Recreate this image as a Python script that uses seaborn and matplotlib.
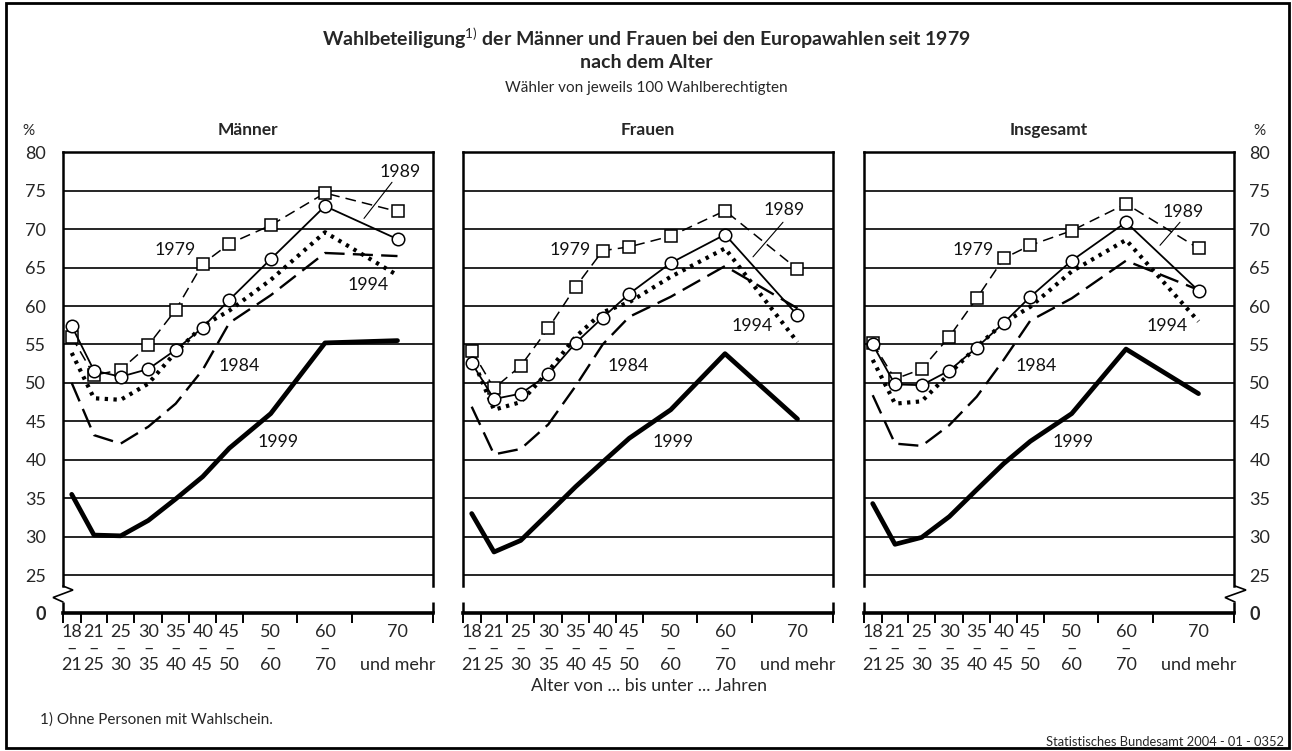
import matplotlib
matplotlib.use("Agg")
import matplotlib.pyplot as plt
from matplotlib.lines import Line2D
from matplotlib.patches import Rectangle
import seaborn as sns
import pandas as pd

# ---------------- data ----------------
age_low = ["18", "21", "25", "30", "35", "40", "45", "50", "60", "70"]
age_high = ["21", "25", "30", "35", "40", "45", "50", "60", "70", "und mehr"]
panels = ["Männer", "Frauen", "Insgesamt"]
years = ["1979", "1984", "1989", "1994", "1999"]

maenner_1979 = [56.0, 51.0, 51.7, 54.9, 59.5, 65.5, 68.1, 70.5, 74.7, 72.3]
maenner_1984 = [50.0, 43.2, 42.1, 44.3, 47.3, 51.7, 57.8, 61.4, 66.9, 66.5]
maenner_1989 = [57.4, 51.6, 50.8, 51.8, 54.3, 57.2, 60.8, 66.1, 73.0, 68.7]
maenner_1994 = [53.9, 48.0, 47.8, 49.9, 54.0, 57.4, 59.4, 63.4, 69.6, 64.0]
maenner_1999 = [35.5, 30.2, 30.1, 32.1, 34.9, 37.8, 41.5, 46.0, 55.2, 55.5]

frauen_1979 = [54.2, 49.3, 52.2, 57.1, 62.5, 67.2, 67.7, 69.1, 72.4, 64.8]
frauen_1984 = [46.9, 40.7, 41.4, 44.6, 49.6, 55.0, 58.6, 61.2, 65.2, 59.7]
frauen_1989 = [52.6, 47.9, 48.6, 51.1, 55.2, 58.5, 61.6, 65.6, 69.3, 58.8]
frauen_1994 = [53.4, 46.5, 47.5, 51.5, 56.0, 59.2, 60.5, 63.8, 67.5, 55.3]
frauen_1999 = [33.0, 28.0, 29.5, 33.0, 36.5, 39.7, 42.8, 46.5, 53.8, 45.3]

insg_1979 = [55.2, 50.5, 51.8, 56.0, 61.0, 66.2, 67.9, 69.8, 73.3, 67.5]
insg_1984 = [48.4, 42.1, 41.8, 44.5, 48.2, 53.0, 58.1, 61.0, 65.9, 62.1]
insg_1989 = [55.0, 49.8, 49.7, 51.6, 54.6, 57.8, 61.2, 65.9, 70.9, 62.0]
insg_1994 = [53.0, 47.3, 47.6, 51.2, 54.7, 57.8, 59.9, 64.5, 68.6, 58.0]
insg_1999 = [34.3, 29.0, 29.9, 32.6, 36.1, 39.5, 42.4, 46.0, 54.4, 48.6]

y_ticks = [25, 30, 35, 40, 45, 50, 55, 60, 65, 70, 75, 80]

# ---------------- layout (not data) ----------------
W, H = 1292, 751
x_bounds = [0, 17.7, 44, 71, 98.7, 126, 153, 179.7, 233.7, 288.7, 370]
x_pos = [8.7, 31, 57.7, 85.3, 112.7, 139.7, 166.3, 207.7, 262, 334.5]
Y0 = 20.1  # position where "0" is drawn (broken axis)
panel_left_px = [63, 463, 864]
ax_top_px, ax_bot_px, ax_w_px = 152.3, 612.7, 370

series = {
    "Männer": [maenner_1979, maenner_1984, maenner_1989, maenner_1994, maenner_1999],
    "Frauen": [frauen_1979, frauen_1984, frauen_1989, frauen_1994, frauen_1999],
    "Insgesamt": [insg_1979, insg_1984, insg_1989, insg_1994, insg_1999],
}

styles = {
    "1979": dict(color="black", lw=1.1, linestyle=(0, (7, 4)), marker="s", markersize=8.5,
                 markerfacecolor="white", markeredgecolor="black", markeredgewidth=1.1, zorder=5),
    "1984": dict(color="black", lw=1.7, linestyle=(0, (8.5, 3.5)), zorder=3),
    "1989": dict(color="black", lw=1.3, linestyle="-", marker="o", markersize=9,
                 markerfacecolor="white", markeredgecolor="black", markeredgewidth=1.1, zorder=6),
    "1994": dict(color="black", lw=3.0, linestyle=(0, (0.8, 1.3)), zorder=4),
    "1999": dict(color="black", lw=3.4, linestyle="-", zorder=4),
}

labels_pos = {
    "Männer": {"1989": (337, 77.4), "1979": (112, 67.3), "1994": (305, 62.7),
               "1984": (176, 52.2), "1999": (215, 42.3)},
    "Frauen": {"1989": (321, 72.5), "1979": (107, 67.3), "1994": (289, 57.4),
               "1984": (165, 52.2), "1999": (210, 42.3)},
    "Insgesamt": {"1989": (319, 72.2), "1979": (109, 67.3), "1994": (303, 57.4),
                  "1984": (172, 52.2), "1999": (209, 42.3)},
}
leaders = {
    "Männer": ((329, 76.1), (301, 71.4)),
    "Frauen": ((320, 70.9), (290, 66.4)),
    "Insgesamt": ((316, 70.9), (296, 67.9)),
}

# ---------------- style ----------------
sns.set_style("white")
FONT = ["Lato", "DejaVu Sans"]
plt.rcParams["font.family"] = FONT
plt.rcParams["mathtext.fontset"] = "custom"
plt.rcParams["mathtext.rm"] = "Lato"
plt.rcParams["mathtext.bf"] = "Lato:bold"

fig = plt.figure(figsize=(W / 100, H / 100), dpi=100)


def fx(px):
    return px / W


def fy(py):
    return 1 - py / H


def fig_line(pts, lw=1.2):
    xs = [fx(p[0]) for p in pts]
    ys = [fy(p[1]) for p in pts]
    fig.add_artist(Line2D(xs, ys, color="black", lw=lw, solid_joinstyle="miter"))


tick_labels = [f"{lo}\n–\n{hi}" if hi != "und mehr" else f"{lo}\n\n{hi}"
               for lo, hi in zip(age_low, age_high)]

gap_top, gap_bot = 23.6, 21.5
TS = 13  # tick font size

for i, name in enumerate(panels):
    left = panel_left_px[i]
    ax = fig.add_axes([fx(left), fy(ax_bot_px), ax_w_px / W, (ax_bot_px - ax_top_px) / H])
    ax.set_xlim(0, 370)
    ax.set_ylim(Y0, 80)

    for yv in y_ticks[:-1]:
        ax.axhline(yv, color="black", lw=1.2, zorder=1)

    for year, vals in zip(years, series[name]):
        df = pd.DataFrame({"x": x_pos, "y": vals})
        sns.lineplot(data=df, x="x", y="y", ax=ax, sort=False, estimator=None,
                     **styles[year])
        tx, ty = labels_pos[name][year]
        ax.text(tx, ty, year, ha="center", va="center", fontsize=12.8, color="#111111",
                zorder=7)
    (x1, y1), (x2, y2) = leaders[name]
    ax.plot([x1, x2], [y1, y2], color="black", lw=0.8, zorder=7)

    ax.set_xlabel("")
    ax.set_ylabel("")

    for s in ax.spines.values():
        s.set_visible(True)
        s.set_color("black")
        s.set_linewidth(1.8)
    ax.spines["bottom"].set_linewidth(2.6)
    ax.spines["left"].set_bounds(gap_top, 80)
    ax.spines["right"].set_bounds(gap_top, 80)
    ax.vlines([0, 370], Y0, gap_bot, color="black", lw=1.8, clip_on=False)

    # x ticks
    ax.set_xticks(x_bounds)
    ax.set_xticklabels([])
    ax.tick_params(axis="x", which="major", direction="out", length=7, width=1.4,
                   color="black", bottom=True)
    ax.set_xticks(x_pos, minor=True)
    ax.set_xticklabels(tick_labels, minor=True, fontsize=TS, linespacing=1.05)
    ax.tick_params(axis="x", which="minor", length=0, pad=8)

    # y ticks
    ax.set_yticks([Y0] + y_ticks)
    ylabels = ["0"] + [str(v) for v in y_ticks]
    ax.tick_params(axis="y", length=0, labelsize=TS)
    if i == 0:
        ax.set_yticklabels(ylabels)
        ax.tick_params(axis="y", left=False, labelleft=True, pad=12)
        ax.get_yticklabels()[0].set_fontweight("bold")
    elif i == 2:
        ax.set_yticklabels(ylabels)
        ax.tick_params(axis="y", left=False, labelleft=False, labelright=True, pad=11)
        ax.get_yticklabels()[0].set_fontweight("bold")
    else:
        ax.set_yticklabels([])
    ax.grid(False)

    fig.text(fx(left + ax_w_px / 2), fy(130), name, ha="center", va="center",
             fontsize=12.5, fontweight="bold")

# zigzags
fig_line([(63, 586), (73, 590), (53, 597.5), (63, 602)], lw=1.2)
fig_line([(1235, 586), (1246, 590), (1225, 597.5), (1235, 602)], lw=1.2)

# titles
fig.text(0.5, fy(38), r"Wahlbeteiligung$^{\mathrm{1)}}$ der Männer und Frauen bei den Europawahlen seit 1979",
         ha="center", va="center", fontsize=14, fontweight="bold")
fig.text(0.5, fy(62), "nach dem Alter", ha="center", va="center", fontsize=14, fontweight="bold")
fig.text(0.5, fy(88), "Wähler von jeweils 100 Wahlberechtigten", ha="center", va="center",
         fontsize=11)
fig.text(fx(28), fy(131), "%", ha="center", va="center", fontsize=11)
fig.text(fx(1259), fy(131), "%", ha="center", va="center", fontsize=11)

fig.text(fx(649), fy(686), "Alter von ... bis unter ... Jahren", ha="center", va="center",
         fontsize=12.8)
fig.text(fx(40), fy(720), "1) Ohne Personen mit Wahlschein.", ha="left", va="center",
         fontsize=11)
fig.text(fx(1284), fy(742), "Statistisches Bundesamt 2004 - 01 - 0352", ha="right",
         va="center", fontsize=9.3)

# outer frame
fig.add_artist(Rectangle((fx(6), fy(748)), fx(1289) - fx(6), fy(3) - fy(748),
                         fill=False, lw=2.0, edgecolor="black", transform=fig.transFigure))

fig.savefig("out.png", dpi=100)
